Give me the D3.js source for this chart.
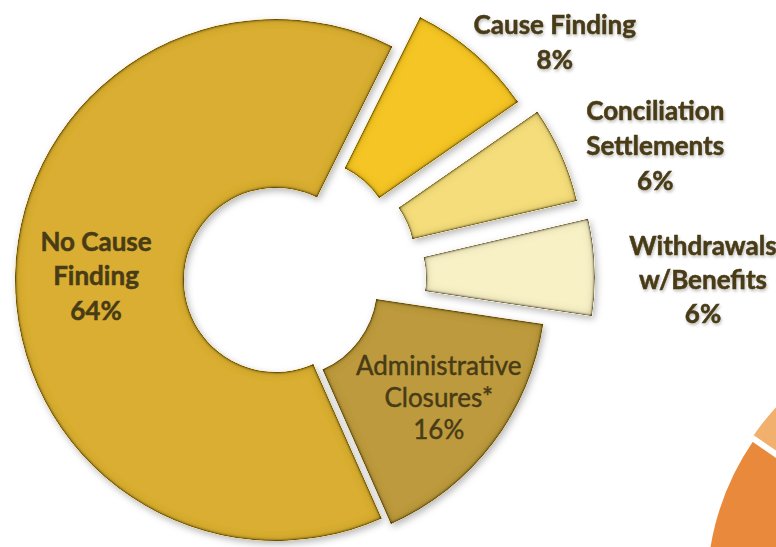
<!DOCTYPE html>
<html>
<head>
<meta charset="utf-8">
<script src="https://cdn.jsdelivr.net/npm/d3@7"></script>
<style>
  html, body { margin: 0; padding: 0; background: #ffffff; }
  svg { display: block; }
</style>
</head>
<body>
<svg id="chart" width="776" height="547"></svg>
<script>
// Charge closures by outcome, listed clockwise from the top of the ring
const categories = ["Cause Finding", "Conciliation Settlements", "Withdrawals w/Benefits", "Administrative Closures*", "No Cause Finding"];
const labelLines = [["Cause Finding"], ["Conciliation", "Settlements"], ["Withdrawals", "w/Benefits"], ["Administrative", "Closures*"], ["No Cause", "Finding"]];
const shares = [8, 6, 6, 16, 64];

// Neighbouring chart, cut off by the right edge of the page
const neighborShares = [70, 30];

// ---- layout & style ----
const W = 776, H = 547;
const cx = 278, cy = 280;
const outerR = 261, innerR = 92;
const startDeg = 26.5;
const sliceColors = ["#F5C526", "#F4DD7A", "#F8F1C6", "#BC9A3C", "#D9AE31"];
const explode = [39, 49, 56, 9, 2];
const labelPolar = [[49.5, 364], [70.6, 400], [90.2, 425], [126.5, 200], [270.8, 182]];
const labelLineH = [35, 35, 34, 32, 34.5];
const labelWeight = [700, 700, 700, 400, 700];
const labelStroke = [0.5, 0.5, 0.5, 0.45, 0.5];
const labelOutside = [true, true, true, false, false];
const textColor = "#483B16";

const neighborCx = 970, neighborCy = 590, neighborR = 264;
const neighborColors = ["#E8893B", "#F2B06F"];
const neighborExplode = [0, 5];

const rad = d => d * Math.PI / 180;
const svg = d3.select("#chart");
const defs = svg.append("defs");

// Bevelled edge + soft drop shadow for the ring pieces
const bevel = defs.append("filter").attr("id", "bevel")
  .attr("x", "-15%").attr("y", "-15%").attr("width", "130%").attr("height", "130%");
// thin dark rim
bevel.append("feGaussianBlur").attr("in", "SourceAlpha").attr("stdDeviation", 1.4).attr("result", "blurA");
bevel.append("feComposite").attr("in", "SourceAlpha").attr("in2", "blurA")
  .attr("operator", "arithmetic").attr("k1", 0).attr("k2", 2.6).attr("k3", -2.6).attr("k4", 0).attr("result", "rimMask");
bevel.append("feFlood").attr("flood-color", "#4a3b0a").attr("flood-opacity", 0.9).attr("result", "rimFill");
bevel.append("feComposite").attr("in", "rimFill").attr("in2", "rimMask").attr("operator", "in").attr("result", "rim");
// wider soft shading inside the rim
bevel.append("feGaussianBlur").attr("in", "SourceAlpha").attr("stdDeviation", 4.5).attr("result", "blurB");
bevel.append("feComposite").attr("in", "SourceAlpha").attr("in2", "blurB")
  .attr("operator", "arithmetic").attr("k1", 0).attr("k2", 1.2).attr("k3", -1.2).attr("k4", 0).attr("result", "glowMask");
bevel.append("feFlood").attr("flood-color", "#5a4810").attr("flood-opacity", 0.45).attr("result", "glowFill");
bevel.append("feComposite").attr("in", "glowFill").attr("in2", "glowMask").attr("operator", "in").attr("result", "glow");
// drop shadow
bevel.append("feGaussianBlur").attr("in", "SourceAlpha").attr("stdDeviation", 3.5).attr("result", "shBlur");
bevel.append("feOffset").attr("in", "shBlur").attr("dx", 2).attr("dy", 3).attr("result", "shOff");
bevel.append("feFlood").attr("flood-color", "#000").attr("flood-opacity", 0.28).attr("result", "shFill");
bevel.append("feComposite").attr("in", "shFill").attr("in2", "shOff").attr("operator", "in").attr("result", "shadow");
const bm = bevel.append("feMerge");
bm.append("feMergeNode").attr("in", "shadow");
bm.append("feMergeNode").attr("in", "SourceGraphic");
bm.append("feMergeNode").attr("in", "glow");
bm.append("feMergeNode").attr("in", "rim");

// Soft shadow behind the outside labels
const tsh = defs.append("filter").attr("id", "textShadow")
  .attr("x", "-10%").attr("y", "-30%").attr("width", "120%").attr("height", "160%");
tsh.append("feGaussianBlur").attr("in", "SourceAlpha").attr("stdDeviation", 1.8).attr("result", "b");
tsh.append("feOffset").attr("in", "b").attr("dx", 1).attr("dy", 2).attr("result", "o");
tsh.append("feFlood").attr("flood-color", "#000").attr("flood-opacity", 0.25).attr("result", "f");
tsh.append("feComposite").attr("in", "f").attr("in2", "o").attr("operator", "in").attr("result", "s");
const tm = tsh.append("feMerge");
tm.append("feMergeNode").attr("in", "s");
tm.append("feMergeNode").attr("in", "SourceGraphic");

// ---- neighbouring pie (only its left rim is in view) ----
const nStart = rad(304.5 - 0.70 * 360);
const neighborPie = d3.pie().sort(null).startAngle(nStart).endAngle(nStart + 2 * Math.PI);
const neighborArc = d3.arc().innerRadius(0).outerRadius(neighborR);
svg.append("g").attr("transform", `translate(${neighborCx},${neighborCy})`)
  .selectAll("path").data(neighborPie(neighborShares)).join("path")
  .attr("transform", (d, i) => {
    const m = (d.startAngle + d.endAngle) / 2;
    return `translate(${neighborExplode[i] * Math.sin(m)},${-neighborExplode[i] * Math.cos(m)})`;
  })
  .attr("d", neighborArc)
  .attr("fill", (d, i) => neighborColors[i])
  .attr("stroke", "#ffffff").attr("stroke-width", 2);

// ---- main ring ----
const pie = d3.pie().sort(null)
  .startAngle(rad(startDeg)).endAngle(rad(startDeg) + 2 * Math.PI);
const arc = d3.arc().innerRadius(innerR).outerRadius(outerR);
const arcs = pie(shares);

const ring = svg.append("g").attr("transform", `translate(${cx},${cy})`);
ring.selectAll("path").data(arcs).join("path")
  .attr("transform", (d, i) => {
    const m = (d.startAngle + d.endAngle) / 2;
    return `translate(${explode[i] * Math.sin(m)},${-explode[i] * Math.cos(m)})`;
  })
  .attr("d", arc)
  .attr("fill", (d, i) => sliceColors[i])
  .attr("filter", "url(#bevel)");

// ---- labels ----
const labels = svg.append("g")
  .attr("font-family", "Lato, 'Open Sans', sans-serif")
  .attr("font-size", 26)
  .attr("fill", textColor)
  .attr("stroke", textColor)
  .attr("text-anchor", "middle");

arcs.forEach((d, i) => {
  const lines = labelLines[i].concat([`${shares[i]}%`]);
  const [ang, dist] = labelPolar[i];
  const lx = cx + dist * Math.sin(rad(ang));
  const ly = cy - 1 - dist * Math.cos(rad(ang));
  const lh = labelLineH[i];
  const t = labels.append("text")
    .attr("font-weight", labelWeight[i])
    .attr("stroke-width", labelStroke[i])
    .attr("filter", labelOutside[i] ? "url(#textShadow)" : null);
  lines.forEach((s, k) => {
    t.append("tspan")
      .attr("x", lx)
      .attr("y", ly + (k - (lines.length - 1) / 2) * lh + 9)
      .text(s);
  });
});
</script>
</body>
</html>
